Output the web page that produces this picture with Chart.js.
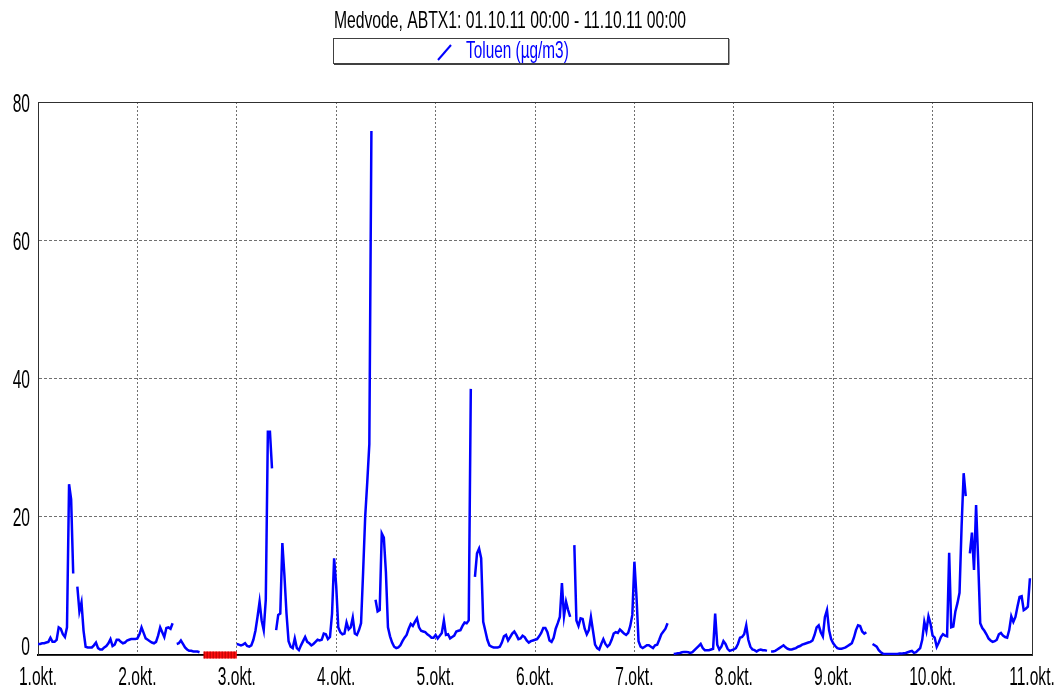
<!DOCTYPE html>
<html>
<head>
<meta charset="utf-8">
<title>Medvode, ABTX1 - Toluen</title>
<script src="https://cdn.jsdelivr.net/npm/chart.js@4/dist/chart.umd.min.js"></script>
<style>
  html, body { margin: 0; padding: 0; background: #fff; }
  #chart { display: block; }
</style>
</head>
<body>
<canvas id="chart" width="1057" height="693"></canvas>
<script>
const chartTitle = 'Medvode, ABTX1: 01.10.11 00:00 - 11.10.11 00:00';
const seriesLabel = 'Toluen (µg/m3)';
const dayLabels = ['1.okt.', '2.okt.', '3.okt.', '4.okt.', '5.okt.', '6.okt.',
                   '7.okt.', '8.okt.', '9.okt.', '10.okt.', '11.okt.'];

// half-hourly toluene values (µg/m3), null = no value
const okt01 = [1.6,1.6,1.7,1.7,1.8,1.9,2.5,1.9,1.9,2.2,4.0,3.8,3.0,2.6,4.0,24.7,22.5,11.8,null,9.9,6.3,7.6,3.5,1.2,
               1.1,1.1,1.1,1.4,1.8,1.0,0.8,0.8,1.1,1.3,1.7,2.3,1.3,1.5,2.2,2.2,1.9,1.7,1.8,2.1,2.2,2.3,2.3,2.3];
const okt02 = [2.4,3.0,4.0,3.2,2.4,2.2,2.0,1.8,1.7,1.9,2.8,4.0,3.3,2.6,3.9,4.0,3.8,4.6,null,1.6,1.7,2.1,1.6,1.1,
               0.8,0.6,0.6,0.5,0.5,0.5,0.4,null,null,null,null,null,null,null,null,null,null,null,null,null,null,null,null,null];
const okt03 = [1.6,1.5,1.4,1.5,1.7,1.3,1.2,1.4,2.2,3.5,5.5,7.7,5.0,3.6,8.0,32.3,32.3,27.0,null,3.6,5.8,6.0,16.2,11.5,
               6.0,2.0,1.2,1.0,2.4,1.0,0.7,1.4,2.0,2.6,1.9,1.7,1.4,1.6,1.9,2.2,2.1,2.2,3.1,3.0,2.3,2.6,6.0,14.0];
const okt04 = [10.0,4.0,3.3,3.0,3.1,4.7,3.7,4.0,5.4,3.1,2.9,3.6,4.6,12.0,20.0,25.0,30.5,75.8,null,8.0,6.3,6.5,17.6,17.0,
               12.0,4.0,2.7,1.8,1.2,1.0,1.1,1.4,2.0,2.5,2.9,3.8,4.5,4.2,4.8,5.3,4.0,3.5,3.4,3.3,3.0,2.8,2.5,2.5];
const okt05 = [2.9,2.4,2.8,3.2,5.0,2.9,3.0,2.4,2.6,2.8,3.4,3.5,3.6,4.2,4.7,4.6,5.0,38.5,null,11.3,14.7,15.4,14.0,4.8,
               3.5,2.2,1.4,1.2,1.1,1.1,1.1,1.2,1.8,2.7,2.9,2.1,2.6,3.1,3.4,2.9,2.3,2.4,2.8,2.6,2.1,1.8,2.0,2.1];
const okt06 = [2.2,2.3,2.7,3.2,3.9,3.9,3.3,2.1,1.9,2.5,3.8,4.6,5.5,10.4,5.6,7.7,6.5,5.5,null,15.9,5.0,4.2,5.3,5.2,
               3.8,3.0,3.6,5.5,3.5,1.5,1.0,0.8,1.6,2.3,1.6,1.2,1.5,2.2,3.1,3.3,3.2,3.7,3.4,3.1,2.9,3.2,4.2,5.8];
const okt07 = [13.5,8.5,2.0,1.2,1.0,1.2,1.4,1.4,1.2,1.0,1.4,1.5,2.2,3.0,3.4,3.8,4.6,null,null,0.15,0.2,0.25,0.3,0.4,
               0.45,0.45,0.4,0.3,0.4,0.7,1.0,1.3,1.6,1.0,0.7,0.7,0.7,0.8,0.9,6.0,1.5,0.8,1.2,2.0,1.6,0.9,0.6,0.7];
const okt08 = [0.8,1.0,1.6,2.5,2.6,3.0,4.3,2.2,1.2,0.8,0.7,0.5,0.7,0.8,0.7,0.7,0.6,null,0.5,0.5,0.6,0.8,1.0,1.2,
               1.4,1.1,0.9,0.8,0.8,0.9,1.0,1.2,1.3,1.5,1.6,1.7,1.8,1.9,2.1,2.9,4.0,4.3,3.3,2.7,5.5,6.5,3.6,2.3];
const okt09 = [1.7,1.3,1.0,0.9,0.9,1.0,1.1,1.3,1.5,1.7,2.5,3.6,4.3,4.2,3.4,3.1,3.3,null,null,1.6,1.4,1.2,0.7,0.4,
               0.2,0.15,0.15,0.15,0.15,0.15,0.15,0.15,0.2,0.2,0.25,0.3,0.4,0.5,0.6,0.3,0.4,0.7,1.0,2.2,4.8,3.5,5.6,4.5];
const okt10 = [2.8,2.5,1.2,1.8,2.6,3.0,2.8,2.7,14.8,4.0,4.1,6.3,7.5,9.0,18.6,26.3,23.0,null,14.7,17.7,12.3,21.7,13.7,4.6,
               3.9,3.5,3.0,2.4,2.1,1.9,2.0,2.2,3.0,3.2,2.8,2.6,2.5,3.6,5.6,4.8,5.5,7.0,8.4,8.5,6.5,6.7,7.0,11.1];

// hours (from 1.okt 00:00) flagged as invalid data
const invalidPeriod = [40, 48];

const toluen = [].concat(okt01, okt02, okt03, okt04, okt05, okt06, okt07, okt08, okt09, okt10);
const points = toluen.map((v, i) => ({ x: i / 2, y: v }));
const invalidPoints = invalidPeriod.map(h => ({ x: h, y: 0 }));

function drawText(ctx, text, x, y, opts) {
    ctx.save();
    ctx.font = opts.font;
    ctx.fillStyle = opts.color || '#000';
    ctx.textBaseline = 'alphabetic';
    ctx.textAlign = 'left';
    const w = ctx.measureText(text).width * opts.squeeze;
    let left = x;
    if (opts.align === 'center') left = x - w / 2;
    if (opts.align === 'right') left = x - w;
    ctx.translate(left, y);
    ctx.scale(opts.squeeze, 1);
    ctx.fillText(text, 0, 0);
    ctx.restore();
}

const narrowText = {
    id: 'narrowText',
    beforeDraw(chart) {
        const ctx = chart.ctx;
        ctx.save();
        ctx.fillStyle = '#fff';
        ctx.fillRect(0, 0, chart.width, chart.height);
        ctx.restore();
    },
    beforeDatasetsDraw(chart) {
        const { ctx, chartArea: a } = chart;
        ctx.save();
        ctx.strokeStyle = '#303030';
        ctx.lineWidth = 1;
        ctx.strokeRect(a.left + 0.5, a.top + 0.5, a.right - a.left, a.bottom - a.top);
        ctx.restore();
    },
    afterDraw(chart) {
        const { ctx, scales: { x, y } } = chart;
        const tickFont = '26px "Liberation Sans", Arial, sans-serif';
        const textFont = '24px "Liberation Sans", Arial, sans-serif';

        // title
        drawText(ctx, chartTitle, 510, 28, { font: textFont, squeeze: 0.655, align: 'center' });

        // legend box
        ctx.save();
        ctx.fillStyle = '#fff';
        ctx.fillRect(333, 38, 395, 25);
        ctx.strokeStyle = '#404040';
        ctx.lineWidth = 1;
        ctx.strokeRect(333.5, 38.5, 395, 25);
        ctx.beginPath();
        ctx.moveTo(334, 64.5);
        ctx.lineTo(729, 64.5);
        ctx.lineTo(729, 39);
        ctx.stroke();
        const ds = chart.data.datasets[0];
        ctx.strokeStyle = ds.borderColor;
        ctx.lineWidth = 2;
        ctx.beginPath();
        ctx.moveTo(438, 60);
        ctx.lineTo(451, 45);
        ctx.stroke();
        ctx.restore();
        drawText(ctx, ds.label, 466, 58, { font: textFont, squeeze: 0.64, color: ds.borderColor });

        // x tick labels
        x.ticks.forEach(t => {
            const label = dayLabels[Math.round(t.value / 24)];
            drawText(ctx, label, x.getPixelForValue(t.value), 685,
                     { font: tickFont, squeeze: 0.6, align: 'center' });
        });
        // y tick labels
        y.ticks.forEach(t => {
            const py = y.getPixelForValue(t.value);
            const base = t.value === 0 ? py : py + 9.5;
            drawText(ctx, String(t.value), 30, base, { font: tickFont, squeeze: 0.6, align: 'right' });
        });
    }
};

new Chart(document.getElementById('chart'), {
    type: 'line',
    data: {
        datasets: [{
            label: seriesLabel,
            data: points,
            borderColor: '#0000ff',
            borderWidth: 2.5,
            pointRadius: 0,
            tension: 0,
            spanGaps: false,
            order: 1
        }, {
            label: 'invalid',
            data: invalidPoints,
            borderColor: '#ff1010',
            borderWidth: 7,
            pointRadius: 0,
            clip: false,
            order: 3
        }, {
            label: 'invalid hatch',
            data: invalidPoints,
            borderColor: '#b00000',
            borderWidth: 7,
            borderDash: [1, 2],
            pointRadius: 0,
            clip: false,
            order: 2
        }]
    },
    options: {
        responsive: false,
        animation: false,
        events: [],
        layout: {
            padding: { left: 38, right: 25, top: 102, bottom: 38 }
        },
        plugins: {
            legend: { display: false },
            title: { display: false },
            tooltip: { enabled: false }
        },
        scales: {
            x: {
                type: 'linear',
                min: 0,
                max: 240,
                ticks: { stepSize: 24, display: false },
                grid: { color: '#707070', lineWidth: 1, drawTicks: false },
                border: { display: true, color: '#000', width: 2, dash: [2, 2] }
            },
            y: {
                min: 0,
                max: 80,
                ticks: { stepSize: 20, display: false },
                grid: { color: '#707070', lineWidth: 1, drawTicks: false },
                border: { display: true, color: '#000', width: 1, dash: [3, 2] }
            }
        }
    },
    plugins: [narrowText]
});
</script>
</body>
</html>
